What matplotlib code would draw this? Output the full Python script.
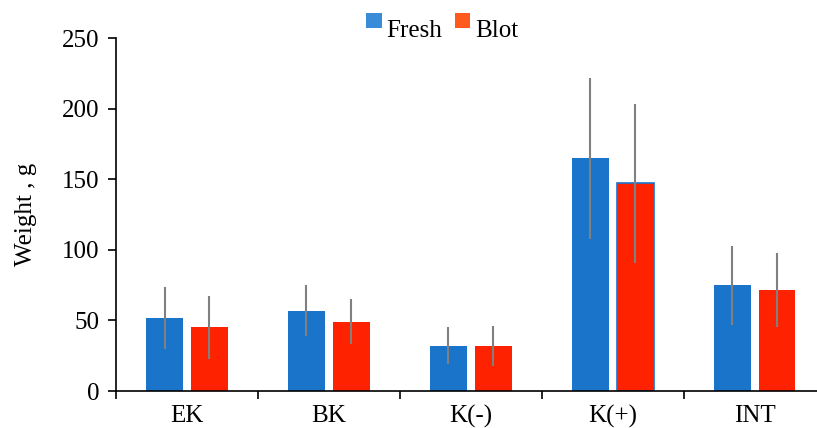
import numpy as np
import matplotlib
matplotlib.use("Agg")
import matplotlib.pyplot as plt
from matplotlib.patches import Patch, Rectangle
from matplotlib.legend_handler import HandlerPatch

plt.rcParams["font.family"] = ["Liberation Serif", "DejaVu Serif"]

categories = ["EK", "BK", "K(-)", "K(+)", "INT"]
fresh = [52, 57, 32, 165, 75]
fresh_err = [22, 18, 13, 57, 28]
blot = [45, 49, 32, 147, 71.5]
blot_err = [22, 16, 14, 56, 26]

FRESH_C = "#1a74c9"
BLOT_C = "#ff2200"
ERR_C = "#808080"


class RaisedSquare(HandlerPatch):
    # legend swatch sits high, level with the top of the text
    def create_artists(self, legend, orig_handle, xdescent, ydescent,
                       width, height, fontsize, trans):
        s = 0.62 * fontsize
        r = Rectangle((-xdescent, -ydescent + height - s * 0.55), s, s,
                      facecolor=orig_handle.get_facecolor(), edgecolor="none",
                      transform=trans)
        return [r]


x = np.arange(len(categories))
w = 0.26
off = 0.158

fig = plt.figure(figsize=(8.17, 4.28), dpi=100)
ax = fig.add_axes([0.142, 0.0864, 0.858, 0.8248])

ax.bar(x - off, fresh, w, color=FRESH_C, edgecolor="none", zorder=2)
edges = ["none"] * len(blot)
edges[3] = FRESH_C
ax.bar(x + off, blot, w, color=BLOT_C, edgecolor=edges, linewidth=1.2, zorder=2)
ax.errorbar(x - off, fresh, yerr=fresh_err, fmt="none", ecolor=ERR_C,
            elinewidth=1.5, capsize=0, zorder=3)
ax.errorbar(x + off, blot, yerr=blot_err, fmt="none", ecolor=ERR_C,
            elinewidth=1.5, capsize=0, zorder=3)

ax.set_xlim(-0.5, 4.44)
ax.set_ylim(0, 250)
ax.set_yticks([0, 50, 100, 150, 200, 250])
ax.set_xticks(x)
ax.set_xticklabels(categories)
ax.set_xticks(np.arange(-0.5, 4.0, 1.0), minor=True)
ax.tick_params(axis="x", which="major", length=0, pad=10, labelsize=18)
ax.tick_params(axis="x", which="minor", length=6, width=1.2, direction="out")
ax.tick_params(axis="y", length=6, width=1.2, direction="out", labelsize=18, pad=6)

for s in ["top", "right"]:
    ax.spines[s].set_visible(False)
for s in ["left", "bottom"]:
    ax.spines[s].set_linewidth(1.2)

ax.set_ylabel("Weight , g", fontsize=18, labelpad=18)

handles = [Patch(facecolor="#3a8bd8", label="Fresh"),
           Patch(facecolor="#ff5a1e", label="Blot")]
fig.legend(handles=handles, loc="upper left", bbox_to_anchor=(0.448, 0.954),
           ncol=2, frameon=False, fontsize=18, handlelength=0.62, handleheight=0.6,
           handletextpad=0.2, columnspacing=0.5, borderpad=0, borderaxespad=0,
           handler_map={Patch: RaisedSquare()})

fig.savefig("out.png", dpi=100)
